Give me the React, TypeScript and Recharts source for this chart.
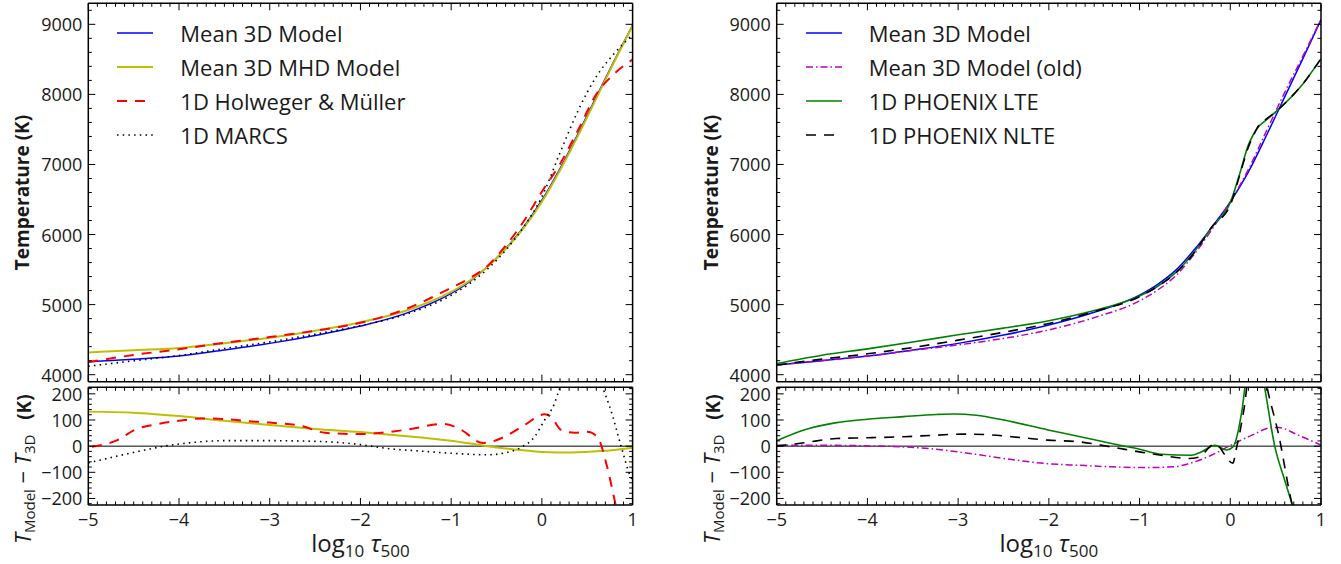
import React from 'react';
import { LineChart, Line, XAxis, YAxis, ReferenceLine, Legend } from 'recharts';

const W = 1341;
const H = 564;
const FONT = '"Open Sans", Lato, "DejaVu Sans", sans-serif';
const INK = '#1a1a1a';

// ---------- tick labels ----------
const xMajorTicks = [-5, -4, -3, -2, -1, 0, 1];
const tempMajorTicks = [4000, 5000, 6000, 7000, 8000, 9000];
const diffMajorTicks = [-200, -100, 0, 100, 200];

// ---------- top panels: temperature vs log tau ----------
const tauGrid = [-5, -4.5, -4, -3.5, -3, -2.5, -2, -1.5, -1, -0.8, -0.6, -0.4, -0.2, 0, 0.2, 0.4, 0.6, 0.8, 1];
const leftMean3D = [4185, 4222, 4266, 4352, 4447, 4560, 4694, 4875, 5160, 5326, 5540, 5801, 6110, 6490, 6942, 7441, 7964, 8487, 8986];
const leftMHD = [4317, 4350, 4381, 4449, 4528, 4626, 4748, 4913, 5181, 5337, 5540, 5793, 6094, 6468, 6918, 7417, 7944, 8473, 8980];
const leftHM = [4180, 4282, 4363, 4456, 4537, 4628, 4740, 4937, 5240, 5374, 5552, 5839, 6189, 6612, 7007, 7494, 8002, 8297, 8496];
const leftMARCS = [4121, 4198, 4274, 4373, 4468, 4578, 4700, 4861, 5133, 5296, 5507, 5776, 6110, 6540, 7167, 7771, 8254, 8587, 8856];

const rightMean3D = [4138, 4200, 4266, 4352, 4447, 4565, 4708, 4890, 5136, 5290, 5492, 5778, 6110, 6467, 6894, 7417, 7964, 8510, 9067];
const rightOld = [4141, 4203, 4267, 4347, 4425, 4518, 4639, 4814, 5054, 5209, 5414, 5715, 6077, 6470, 6929, 7482, 8028, 8545, 9071];
const phxTau = [-5, -4.5, -4, -3.5, -3, -2.5, -2, -1.5, -1, -0.8, -0.6, -0.4, -0.2, 0, 0.1, 0.2, 0.25, 0.3, 0.4, 0.5, 0.6, 0.8, 1];
const rightLTE = [4159, 4278, 4369, 4467, 4569, 4665, 4770, 4915, 5124, 5262, 5459, 5748, 6110, 6457, 6850, 7280, 7417, 7520, 7640, 7750, 7870, 8150, 8510];
const rightNLTE = [4138, 4222, 4298, 4388, 4493, 4605, 4731, 4900, 5114, 5260, 5455, 5735, 6115, 6420, 6830, 7250, 7400, 7530, 7650, 7750, 7870, 8150, 8510];

// ---------- bottom panels: T_model - T_3D ----------
const dMHDTau = [-5, -4.5, -4, -3.5, -3, -2.5, -2, -1.7, -1.33, -1, -0.6, -0.23, 0, 0.32, 0.65, 1];
const dMHD = [132, 128, 115, 97, 81, 66, 54, 45, 33, 21, 0, -15, -22, -24, -19, -6];
const dHMTau = [-4.96, -4.68, -4.49, -4.23, -4, -3.75, -3.5, -3.27, -3, -2.65, -2.39, -2, -1.84, -1.51, -1.07, -0.89, -0.65, -0.41, -0.19, 0.03, 0.1, 0.21, 0.36, 0.5, 0.61, 0.72, 0.81, 0.9, 1];
const dHM = [-2, 23, 62, 85, 97, 106, 104, 96, 90, 77, 51, 46, 49, 62, 85, 62, 12, 36, 81, 122, 113, 62, 51, 55, 36, -80, -220, -360, -490];
const dMARCSTau = [-5, -4.68, -4.38, -4.16, -4, -3.75, -3.5, -3, -2.46, -2, -1.7, -1.33, -0.96, -0.6, -0.41, -0.23, -0.08, 0.03, 0.14, 0.19, 0.3, 0.45, 0.6, 0.68, 0.76, 0.87, 0.98, 1];
const dMARCS = [-64, -38, -15, 0, 8, 17, 21, 21, 18, 6, -9, -19, -28, -33, -26, -5, 36, 100, 164, 215, 300, 330, 290, 215, 138, 4, -118, -130];

const dOldTau = [-5, -4.34, -3.97, -3.6, -3.24, -2.87, -2.5, -2.01, -1.68, -1.31, -0.94, -0.63, -0.46, -0.21, 0.01, 0.24, 0.46, 0.53, 0.75, 1];
const dOld = [3, 3, 1, -3, -12, -28, -47, -67, -73, -79, -82, -79, -67, -35, 4, 42, 71, 71, 42, 4];
const dLTETau = [-5, -4.7, -4.34, -4, -3.6, -3.24, -3.05, -2.8, -2.5, -2.01, -1.68, -1.31, -1, -0.76, -0.43, -0.32, -0.17, -0.04, 0.03, 0.09, 0.16, 0.2, 0.3, 0.38, 0.49, 0.6, 0.68, 0.8, 1];
const dLTE = [21, 62, 90, 103, 113, 121, 123, 118, 100, 62, 38, 10, -12, -31, -35, -22, 3, -15, -3, 62, 222, 400, 370, 222, 0, -130, -220, -350, -557];
const dNLTETau = [-5, -4.7, -4.34, -4, -3.6, -3.24, -2.95, -2.69, -2.29, -2.01, -1.68, -1.31, -1, -0.76, -0.46, -0.35, -0.17, 0.03, 0.06, 0.12, 0.18, 0.22, 0.32, 0.42, 0.53, 0.68, 0.8, 1];
const dNLTE = [0, 13, 29, 32, 36, 42, 46, 44, 32, 23, 17, -3, -22, -35, -47, -42, 8, -65, -20, 80, 222, 400, 370, 202, 49, -220, -350, -557];

// ---------- helpers ----------
const zip = (xs: number[], ys: number[]) => xs.map((x, i) => ({ x, y: ys[i] }));
const range = (a: number, b: number, s: number) => {
  const out: number[] = [];
  for (let k = 0; a + k * s <= b + 1e-9; k++) out.push(Math.round((a + k * s) * 1000) / 1000);
  return out;
};
const xMinorTicks = range(-5, 1, 0.1);
const tempMinorTicks = range(4000, 9200, 200);
const diffMinorTicks = range(-220, 220, 20);
const fmt = (v: number) => (v < 0 ? `\u2212${Math.abs(v)}` : `${v}`);
const isMajor = (v: number, majors: number[]) => majors.some((m) => Math.abs(m - v) < 1e-6);

type Series = { name: string; color: string; width: number; dash?: string; data: { x: number; y: number }[] };

const STYLE = {
  mean3d: { color: '#0000ff', width: 1.5 },
  mhd: { color: '#bfbf00', width: 2 },
  hm: { color: '#ff0000', width: 2, dash: '10 8' },
  marcs: { color: '#000000', width: 1.6, dash: '1.5 4.2' },
  old: { color: '#bf00bf', width: 1.5, dash: '7 3 1.5 3' },
  lte: { color: '#008000', width: 1.6 },
  nlte: { color: '#000000', width: 1.6, dash: '10 8' },
};

const leftTop: Series[] = [
  { name: 'Mean 3D Model', ...STYLE.mean3d, data: zip(tauGrid, leftMean3D) },
  { name: 'Mean 3D MHD Model', ...STYLE.mhd, data: zip(tauGrid, leftMHD) },
  { name: '1D Holweger & Müller', ...STYLE.hm, data: zip(tauGrid, leftHM) },
  { name: '1D MARCS', ...STYLE.marcs, data: zip(tauGrid, leftMARCS) },
];
const leftBottom: Series[] = [
  { name: 'Mean 3D MHD Model', ...STYLE.mhd, data: zip(dMHDTau, dMHD) },
  { name: '1D Holweger & Müller', ...STYLE.hm, data: zip(dHMTau, dHM) },
  { name: '1D MARCS', ...STYLE.marcs, data: zip(dMARCSTau, dMARCS) },
];
const rightTop: Series[] = [
  { name: 'Mean 3D Model', ...STYLE.mean3d, data: zip(tauGrid, rightMean3D) },
  { name: 'Mean 3D Model (old)', ...STYLE.old, data: zip(tauGrid, rightOld) },
  { name: '1D PHOENIX LTE', ...STYLE.lte, data: zip(phxTau, rightLTE) },
  { name: '1D PHOENIX NLTE', ...STYLE.nlte, data: zip(phxTau, rightNLTE) },
];
const rightBottom: Series[] = [
  { name: 'Mean 3D Model (old)', ...STYLE.old, data: zip(dOldTau, dOld) },
  { name: '1D PHOENIX LTE', ...STYLE.lte, data: zip(dLTETau, dLTE) },
  { name: '1D PHOENIX NLTE', ...STYLE.nlte, data: zip(dNLTETau, dNLTE) },
];

const labelStyle = { fontFamily: FONT, fontSize: 18, fill: INK } as const;

const xTick = (majors: number[], showLabels: boolean, dir: number) => (props: any) => {
  const { x, y, payload } = props;
  const major = isMajor(payload.value, majors);
  const len = major ? 7 : 3.5;
  return (
    <g>
      <line x1={x} y1={y} x2={x} y2={y + dir * len} stroke="#000" strokeWidth={1} />
      {major && showLabels && (
        <text x={x} y={y + 14} textAnchor="middle" dominantBaseline="central" {...labelStyle}>
          {fmt(payload.value)}
        </text>
      )}
    </g>
  );
};

const yTick = (majors: number[], showLabels: boolean, dir: number) => (props: any) => {
  const { x, y, payload } = props;
  const major = isMajor(payload.value, majors);
  const len = major ? 7 : 3.5;
  return (
    <g>
      <line x1={x} y1={y} x2={x + dir * len} y2={y} stroke="#000" strokeWidth={1} />
      {major && showLabels && (
        <text x={x - 6} y={y} textAnchor="end" dominantBaseline="central" {...labelStyle}>
          {fmt(payload.value)}
        </text>
      )}
    </g>
  );
};

const legendContent = (series: Series[]) => () => (
  <div style={{ fontFamily: FONT, fontSize: 22, color: INK, lineHeight: '34px' }}>
    {series.map((s) => (
      <div key={s.name} style={{ display: 'flex', alignItems: 'center', height: 34 }}>
        <svg width={36} height={10} style={{ display: 'block' }}>
          <line x1={0} y1={5} x2={36} y2={5} stroke={s.color} strokeWidth={s.width} strokeDasharray={s.dash} />
        </svg>
        <span style={{ marginLeft: 27, whiteSpace: 'nowrap' }}>{s.name}</span>
      </div>
    ))}
  </div>
);

type Box = { x: number; y: number; w: number; h: number };

function Panel(props: {
  box: Box;
  yDomain: [number, number];
  yMajor: number[];
  yMinor: number[];
  series: Series[];
  showX: boolean;
  yTitle: (b: Box) => React.ReactNode;
  xTitle?: (b: Box) => React.ReactNode;
  legend?: Series[];
  zero?: boolean;
}) {
  const { box, yDomain, yMajor, yMinor, series, showX, yTitle, xTitle, legend, zero } = props;
  const margin = { left: box.x - 1, top: box.y - 1, right: W - box.x - box.w - 1, bottom: H - box.y - box.h - 1 };
  const axisLine = { stroke: '#000', strokeWidth: 1.5 };
  return (
    <div style={{ position: 'absolute', left: 0, top: 0 }}>
      <LineChart width={W} height={H} margin={margin}>
        <XAxis
          xAxisId="b" orientation="bottom" type="number" dataKey="x" domain={[-5, 1]} allowDataOverflow
          ticks={xMinorTicks} interval={0} height={1} tickSize={0} tickMargin={0} tickLine={false}
          axisLine={axisLine} tick={xTick(xMajorTicks, showX, -1)}
          label={xTitle ? () => xTitle(box) : undefined}
        />
        <XAxis
          xAxisId="t" orientation="top" type="number" dataKey="x" domain={[-5, 1]} allowDataOverflow
          ticks={xMinorTicks} interval={0} height={1} tickSize={0} tickMargin={0} tickLine={false}
          axisLine={axisLine} tick={xTick(xMajorTicks, false, 1)}
        />
        <YAxis
          yAxisId="l" orientation="left" type="number" domain={yDomain} allowDataOverflow
          ticks={yMinor} interval={0} width={1} tickSize={0} tickMargin={0} tickLine={false}
          axisLine={axisLine} tick={yTick(yMajor, true, 1)}
          label={() => yTitle(box)}
        />
        <YAxis
          yAxisId="r" orientation="right" type="number" domain={yDomain} allowDataOverflow
          ticks={yMinor} interval={0} width={1} tickSize={0} tickMargin={0} tickLine={false}
          axisLine={axisLine} tick={yTick(yMajor, false, -1)}
        />
        {zero && <ReferenceLine xAxisId="b" yAxisId="l" y={0} stroke="#000" strokeWidth={1} />}
        {series.map((s) => (
          <Line
            key={s.name}
            xAxisId="b"
            yAxisId="l"
            data={s.data}
            dataKey="y"
            name={s.name}
            type="monotone"
            stroke={s.color}
            strokeWidth={s.width}
            strokeDasharray={s.dash}
            dot={false}
            activeDot={false}
            isAnimationActive={false}
          />
        ))}
        {legend && (
          <Legend
            layout="vertical"
            align="center"
            verticalAlign="middle"
            content={legendContent(legend)}
            wrapperStyle={{ position: 'absolute', left: box.x + 29, top: box.y + 13, width: 360, height: 140 }}
          />
        )}
      </LineChart>
    </div>
  );
}

const tempTitle = (b: Box) => (
  <text
    x={b.x - 59}
    y={b.y + b.h / 2}
    transform={`rotate(-90, ${b.x - 59}, ${b.y + b.h / 2})`}
    textAnchor="middle"
    fontFamily={FONT}
    fontSize={19}
    fontWeight="bold"
    fill={INK}
  >
    Temperature (K)
  </text>
);

const diffTitle = (b: Box) => {
  const cx = b.x - 57;
  const cy = b.y + b.h / 2 + 23;
  return (
    <text x={cx} y={cy} transform={`rotate(-90, ${cx}, ${cy})`} textAnchor="middle" fontFamily={FONT} fontSize={22} fill={INK}>
      <tspan fontStyle="italic">T</tspan>
      <tspan fontSize={15} dy={4}>Model</tspan>
      <tspan dy={-4}>{' \u2212 '}</tspan>
      <tspan fontStyle="italic">T</tspan>
      <tspan fontSize={15} dy={4}>3D</tspan>
      <tspan dy={-4} fontWeight="bold" fontSize={19}>{'\u00a0\u00a0\u00a0(K)'}</tspan>
    </text>
  );
};

const tauTitle = (b: Box) => (
  <text x={b.x + b.w / 2} y={b.y + b.h + 47} textAnchor="middle" fontFamily={FONT} fontSize={24} fill={INK}>
    <tspan>log</tspan>
    <tspan fontSize={17} dy={5}>10</tspan>
    <tspan dy={-5}>{' '}</tspan>
    <tspan fontStyle="italic">τ</tspan>
    <tspan fontSize={17} dy={5}>500</tspan>
  </text>
);

const LX = 88.3;
const RX = 776.7;
const PW = 544.3;
const TOPY = 3.3;
const TOPH = 378.4;
const BOTY = 387.3;
const BOTH = 117.7;

export default function App() {
  return (
    <div style={{ position: 'absolute', left: 0, top: 0, width: W, height: H, background: '#fff' }}>
      <Panel box={{ x: LX, y: TOPY, w: PW, h: TOPH }} yDomain={[3900, 9300]} yMajor={tempMajorTicks} yMinor={tempMinorTicks}
        series={leftTop} showX={false} yTitle={tempTitle} legend={leftTop} />
      <Panel box={{ x: LX, y: BOTY, w: PW, h: BOTH }} yDomain={[-225, 225]} yMajor={diffMajorTicks} yMinor={diffMinorTicks}
        series={leftBottom} showX yTitle={diffTitle} xTitle={tauTitle} zero />
      <Panel box={{ x: RX, y: TOPY, w: PW, h: TOPH }} yDomain={[3900, 9300]} yMajor={tempMajorTicks} yMinor={tempMinorTicks}
        series={rightTop} showX={false} yTitle={tempTitle} legend={rightTop} />
      <Panel box={{ x: RX, y: BOTY, w: PW, h: BOTH }} yDomain={[-225, 225]} yMajor={diffMajorTicks} yMinor={diffMinorTicks}
        series={rightBottom} showX yTitle={diffTitle} xTitle={tauTitle} zero />
    </div>
  );
}
